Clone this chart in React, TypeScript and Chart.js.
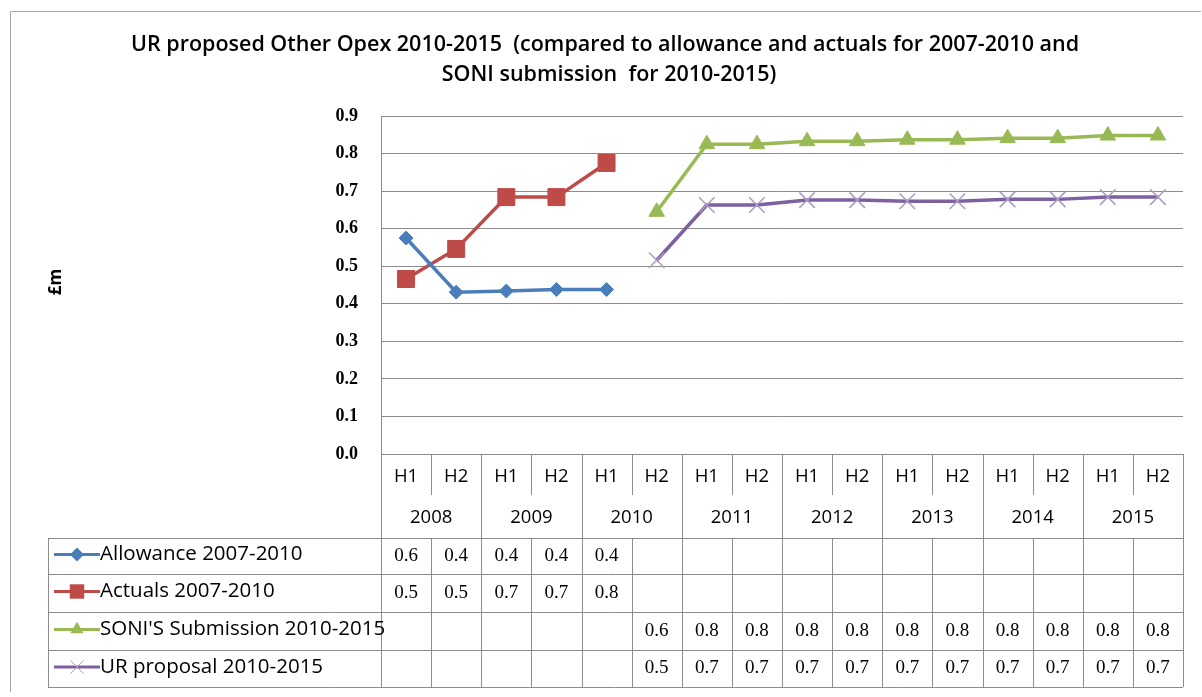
import React, { useEffect, useRef } from "react";
import { Chart, registerables } from "chart.js";

Chart.register(...registerables);

const halves = ["H1", "H2", "H1", "H2", "H1", "H2", "H1", "H2", "H1", "H2", "H1", "H2", "H1", "H2", "H1", "H2"];
const years = ["2008", "2009", "2010", "2011", "2012", "2013", "2014", "2015"];
const categories = halves.map((h, i) => `${h} ${years[Math.floor(i / 2)]}`);

const allowance = [0.575, 0.431, 0.434, 0.438, 0.438, null, null, null, null, null, null, null, null, null, null, null];
const actuals = [0.466, 0.546, 0.684, 0.684, 0.775, null, null, null, null, null, null, null, null, null, null, null];
const soni = [null, null, null, null, null, 0.645, 0.825, 0.825, 0.833, 0.833, 0.837, 0.837, 0.841, 0.841, 0.848, 0.848];
const urProposal = [null, null, null, null, null, 0.516, 0.663, 0.663, 0.676, 0.676, 0.673, 0.673, 0.678, 0.678, 0.684, 0.684];

const seriesNames = ["Allowance 2007-2010", "Actuals 2007-2010", "SONI'S Submission 2010-2015", "UR proposal 2010-2015"];
const titleLines = ["UR proposed Other Opex 2010-2015  (compared to allowance and actuals for 2007-2010 and", "SONI submission  for 2010-2015)"];
const yTitle = "£m";

const COLORS = ["#4A7EBB", "#BE4B48", "#98B954", "#7D60A0"];
const MARKER_FILL = ["#4A7EBB", "#BE4B48", "#98B954", "#A99BC4"];
const STYLES = ["rectRot", "rect", "triangle", "crossRot"];
const RADII = [7, 12, 9, 11];
const GRID = "#8C8C8C";
const SANS = "'Open Sans', Lato, sans-serif";
const SERIF = "'Liberation Serif', 'DejaVu Serif', serif";

function drawMarker(ctx: CanvasRenderingContext2D, k: number, x: number, y: number, r: number) {
  ctx.save();
  ctx.fillStyle = MARKER_FILL[k];
  ctx.strokeStyle = MARKER_FILL[k];
  ctx.lineWidth = 1;
  ctx.beginPath();
  if (k === 0) {
    ctx.moveTo(x, y - r);
    ctx.lineTo(x + r, y);
    ctx.lineTo(x, y + r);
    ctx.lineTo(x - r, y);
    ctx.closePath();
    ctx.fill();
  } else if (k === 1) {
    const s = r * Math.SQRT1_2;
    ctx.rect(x - s, y - s, 2 * s, 2 * s);
    ctx.fill();
  } else if (k === 2) {
    const h = r * 0.866;
    ctx.moveTo(x, y - r);
    ctx.lineTo(x + h, y + r / 2);
    ctx.lineTo(x - h, y + r / 2);
    ctx.closePath();
    ctx.fill();
  } else {
    const d = r * Math.SQRT1_2;
    ctx.moveTo(x - d, y - d);
    ctx.lineTo(x + d, y + d);
    ctx.moveTo(x + d, y - d);
    ctx.lineTo(x - d, y + d);
    ctx.stroke();
  }
  ctx.restore();
}

const tablePlugin = {
  id: "dataTable",
  afterDraw(chart: any) {
    const ctx = chart.ctx;
    const area = chart.chartArea;
    const xs = chart.scales.x;
    const n = categories.length;
    const colW = area.width / n;
    const left = area.left;
    const right = area.right;
    const top = area.bottom;
    const rowH1 = top + 41;
    const rowYear = top + 84;
    const rows = [rowYear, rowYear + 36, rowYear + 74, rowYear + 112, rowYear + 149];
    const legLeft = 48;

    ctx.save();
    ctx.strokeStyle = "#A6A6A6";
    ctx.lineWidth = 1;
    ctx.beginPath();
    ctx.moveTo(10.5, 692);
    ctx.lineTo(10.5, 11.5);
    ctx.lineTo(1201, 11.5);
    ctx.stroke();

    ctx.fillStyle = "#000";
    ctx.textAlign = "center";
    ctx.textBaseline = "middle";
    ctx.font = `600 21.5px ${SANS}`;
    ctx.fillText(titleLines[0], 605, 45);
    ctx.fillText(titleLines[1], 609, 75);

    ctx.save();
    ctx.translate(56, 282);
    ctx.rotate(-Math.PI / 2);
    ctx.font = `bold 17px ${SANS}`;
    ctx.fillText(yTitle, 0, 0);
    ctx.restore();

    ctx.strokeStyle = GRID;
    ctx.lineWidth = 1;
    ctx.beginPath();
    const hl = (y: number, x0: number, x1: number) => {
      ctx.moveTo(x0, Math.round(y) + 0.5);
      ctx.lineTo(x1, Math.round(y) + 0.5);
    };
    const vl = (x: number, y0: number, y1: number) => {
      ctx.moveTo(Math.round(x) + 0.5, y0);
      ctx.lineTo(Math.round(x) + 0.5, y1);
    };
    hl(top, left, right);
    rows.forEach((y) => hl(y, legLeft, right));
    vl(left, top, rows[4]);
    vl(right, top, rows[4]);
    vl(legLeft, rows[0], rows[4]);
    for (let i = 1; i < n; i++) {
      const x = left + i * colW;
      if (i % 2 === 0) {
        vl(x, top, rows[4]);
      } else {
        vl(x, top, rowH1);
        vl(x, rows[0], rows[4]);
      }
    }
    ctx.stroke();

    ctx.fillStyle = "#000";
    ctx.textAlign = "center";
    ctx.textBaseline = "middle";
    ctx.font = `18.5px ${SANS}`;
    for (let i = 0; i < n; i++) {
      ctx.fillText(halves[i], xs.getPixelForValue(i), top + 23);
    }
    years.forEach((yr, j) => {
      ctx.fillText(yr, left + (2 * j + 1) * colW, top + 64);
    });

    chart.data.datasets.forEach((ds: any, k: number) => {
      const y0 = rows[k];
      const y1 = rows[k + 1];
      const cy = (y0 + y1) / 2 - 1.5;
      ctx.strokeStyle = COLORS[k];
      ctx.lineWidth = 3;
      ctx.beginPath();
      ctx.moveTo(54, cy);
      ctx.lineTo(100, cy);
      ctx.stroke();
      drawMarker(ctx, k, 77, cy, Math.max(7, RADII[k] * 0.85));
      ctx.fillStyle = "#000";
      ctx.textAlign = "left";
      ctx.font = `20.5px ${SANS}`;
      ctx.fillText(seriesNames[k], 100, cy);
      ctx.textAlign = "center";
      ctx.font = `19px ${SERIF}`;
      ds.data.forEach((v: number | null, i: number) => {
        if (v === null || v === undefined) return;
        ctx.fillText(v.toFixed(1), xs.getPixelForValue(i), cy + 1.5);
      });
    });
    ctx.restore();
  },
};

export default function App() {
  const ref = useRef<HTMLCanvasElement>(null);
  useEffect(() => {
    const canvas = ref.current!;
    const all = [allowance, actuals, soni, urProposal];
    const chart = new Chart(canvas, {
      type: "line",
      data: {
        labels: categories,
        datasets: all.map((d, k) => ({
          label: seriesNames[k],
          data: d,
          borderColor: COLORS[k],
          backgroundColor: MARKER_FILL[k],
          pointBorderColor: MARKER_FILL[k],
          pointBackgroundColor: MARKER_FILL[k],
          pointStyle: STYLES[k] as any,
          pointRadius: RADII[k],
          pointBorderWidth: k === 3 ? 1.5 : 1,
          borderWidth: 3.5,
          spanGaps: false,
          tension: 0,
        })),
      },
      options: {
        responsive: false,
        animation: false,
        devicePixelRatio: 1,
        layout: { padding: { left: 281, right: 19, top: 116, bottom: 243 } },
        plugins: {
          legend: { display: false },
          title: { display: false },
          tooltip: { enabled: false },
        },
        scales: {
          x: { type: "category", display: false, offset: true },
          y: {
            min: 0,
            max: 0.9,
            afterFit: (s: any) => {
              s.width = 100;
            },
            ticks: {
              stepSize: 0.1,
              padding: 23,
              color: "#000",
              font: { family: SERIF, size: 18, weight: "bold" },
              callback: (v: any) => Number(v).toFixed(1),
            },
            grid: { color: GRID, drawTicks: false, lineWidth: 1 },
            border: { display: true, color: GRID },
          },
        },
      },
      plugins: [tablePlugin],
    });
    return () => chart.destroy();
  }, []);
  return (
    <div style={{ position: "fixed", left: 0, top: 0, width: 1202, height: 697, background: "#fff" }}>
      <canvas ref={ref} width={1202} height={697} style={{ display: "block" }} />
    </div>
  );
}
